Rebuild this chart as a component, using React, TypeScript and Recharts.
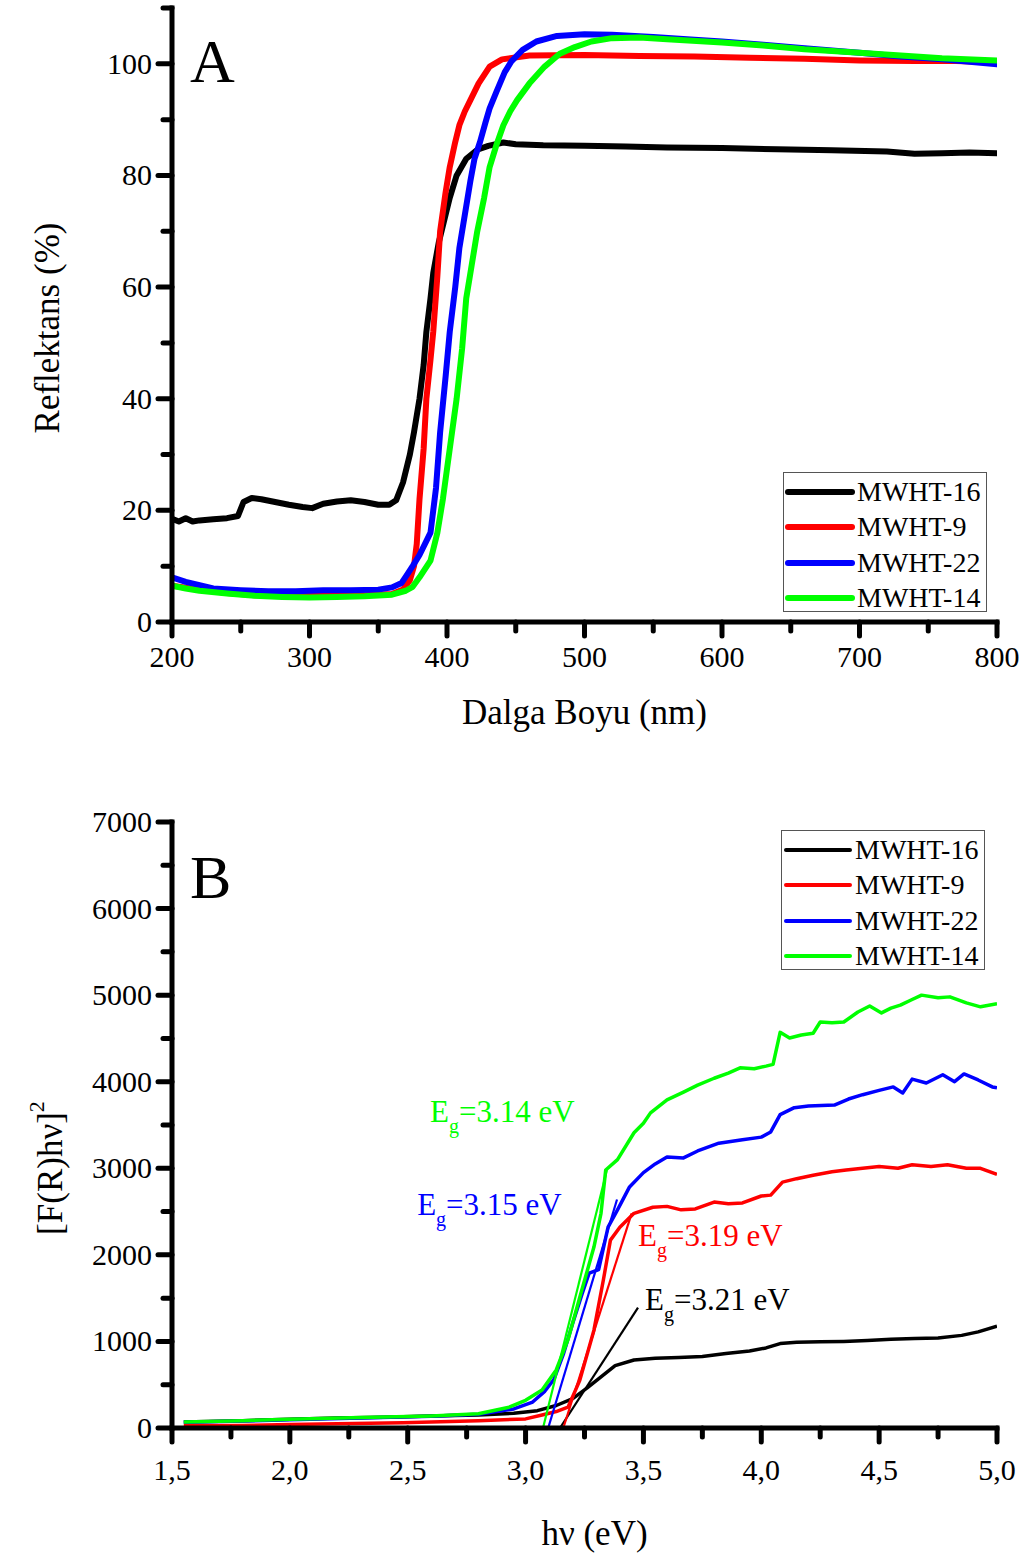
import React from 'react';
import { LineChart, Line, XAxis, YAxis, Legend, ReferenceDot } from 'recharts';

const FONT = '"Liberation Serif", "Times New Roman", Times, serif';

// ---- panel A: reflectance (%) vs wavelength (nm) ----
const reflMWHT16: [number, number][] = [
  [200, 18.5], [205, 18.0], [210, 18.6], [215, 18.0], [220, 18.2], [230, 18.4], [240, 18.6], [248, 19.0],
  [252, 21.5], [258, 22.2], [265, 22.0], [275, 21.5], [285, 21.0], [295, 20.6], [302, 20.4], [310, 21.2],
  [320, 21.6], [330, 21.8], [340, 21.5], [350, 21.0], [358, 21.0], [363, 21.8], [368, 25], [373, 30],
  [376, 34], [380, 40], [383, 46], [385, 52], [388, 58], [390, 62.5], [394, 68], [397, 71], [402, 76],
  [407, 80], [414, 83], [422, 84.6], [430, 85.3], [441, 85.9], [450, 85.6], [470, 85.4], [500, 85.3],
  [530, 85.2], [560, 85.0], [600, 84.9], [640, 84.7], [680, 84.5], [720, 84.3], [740, 83.9], [760, 84.0],
  [780, 84.1], [800, 84.0],
];
const reflMWHT9: [number, number][] = [
  [200, 6.5], [220, 5.8], [240, 5.2], [260, 4.8], [280, 4.7], [300, 4.7], [320, 4.8], [340, 4.8],
  [360, 5.0], [368, 5.8], [373, 7.5], [376, 10], [378, 14], [380, 22], [383, 31], [385, 40], [388, 47],
  [390, 52], [393, 62], [395, 70], [399, 77], [402, 81.5], [406, 86], [409, 89], [413, 91.5], [417, 93.5],
  [423, 96.5], [431, 99.5], [440, 100.8], [460, 101.5], [500, 101.6], [540, 101.4], [580, 101.3],
  [620, 101.1], [660, 100.9], [700, 100.6], [740, 100.5], [770, 100.5], [800, 100.3],
];
const reflMWHT22: [number, number][] = [
  [200, 8.0], [210, 7.2], [220, 6.6], [230, 6.0], [250, 5.7], [270, 5.5], [290, 5.5], [310, 5.7],
  [330, 5.7], [350, 5.8], [360, 6.2], [367, 7.0], [371, 8.5], [375, 10], [380, 12], [388, 16], [392, 24],
  [395, 34], [399, 44], [402, 52], [406, 60], [409, 67], [413, 73], [417, 79], [420, 83], [424, 86],
  [428, 89.5], [431, 92], [436, 95], [442, 98.5], [447, 100.5], [455, 102.5], [465, 104], [480, 105],
  [500, 105.3], [520, 105.2], [550, 104.8], [580, 104.3], [600, 104], [630, 103.4], [660, 102.8],
  [700, 102], [730, 101.3], [760, 100.8], [800, 99.9],
];
const reflMWHT14: [number, number][] = [
  [200, 6.5], [210, 6.0], [220, 5.6], [240, 5.1], [260, 4.7], [280, 4.5], [300, 4.4], [320, 4.5],
  [340, 4.6], [360, 4.9], [370, 5.6], [375, 6.3], [380, 8], [388, 11], [393, 16], [397, 22], [402, 31],
  [407, 40], [411, 49], [414, 58], [418, 64], [422, 70], [427, 76], [431, 81.5], [436, 85.5], [441, 89],
  [446, 91.5], [451, 93.5], [460, 96.5], [471, 99.5], [482, 101.8], [493, 103], [505, 104], [520, 104.6],
  [540, 104.7], [560, 104.4], [600, 103.8], [630, 103.3], [660, 102.6], [700, 102], [730, 101.5],
  [760, 101], [800, 100.6],
];

// ---- panel B: [F(R)hv]^2 vs hv (eV) ----
const kmMWHT16: [number, number][] = [
  [1.55, 70], [1.8, 85], [2.0, 100], [2.2, 115], [2.4, 125], [2.6, 140], [2.8, 150], [2.95, 170],
  [3.05, 200], [3.13, 260], [3.2, 340], [3.26, 460], [3.32, 590], [3.38, 720], [3.46, 785], [3.55, 805],
  [3.65, 815], [3.75, 825], [3.85, 860], [3.95, 890], [4.02, 925], [4.08, 975], [4.15, 990], [4.25, 995],
  [4.35, 1000], [4.45, 1010], [4.55, 1025], [4.65, 1035], [4.75, 1040], [4.85, 1070], [4.92, 1110],
  [5.0, 1175],
];
const kmMWHT9: [number, number][] = [
  [1.55, 25], [1.8, 30], [2.0, 40], [2.2, 50], [2.48, 60], [2.6, 70], [2.8, 85], [3.0, 105], [3.07, 150],
  [3.13, 190], [3.18, 240], [3.23, 550], [3.29, 1130], [3.33, 1710], [3.36, 2170], [3.4, 2320],
  [3.46, 2480], [3.54, 2550], [3.6, 2560], [3.66, 2520], [3.72, 2530], [3.8, 2610], [3.86, 2590],
  [3.92, 2600], [4.0, 2680], [4.04, 2690], [4.09, 2840], [4.15, 2880], [4.22, 2920], [4.3, 2960],
  [4.36, 2980], [4.43, 3000], [4.5, 3020], [4.58, 3000], [4.64, 3040], [4.72, 3020], [4.79, 3040],
  [4.87, 3000], [4.93, 3000], [5.0, 2930],
];
const kmMWHT22: [number, number][] = [
  [1.55, 65], [1.8, 80], [2.0, 95], [2.3, 115], [2.6, 135], [2.8, 160], [2.95, 220], [3.03, 300],
  [3.08, 420], [3.12, 560], [3.16, 850], [3.2, 1210], [3.24, 1550], [3.27, 1790], [3.31, 1830],
  [3.35, 2320], [3.39, 2520], [3.44, 2780], [3.5, 2950], [3.55, 3050], [3.6, 3130], [3.67, 3120],
  [3.73, 3200], [3.82, 3290], [3.92, 3330], [4.0, 3360], [4.04, 3420], [4.08, 3620], [4.14, 3700],
  [4.2, 3720], [4.31, 3730], [4.37, 3800], [4.43, 3850], [4.5, 3900], [4.56, 3940], [4.6, 3870],
  [4.64, 4030], [4.7, 3985], [4.77, 4080], [4.82, 4000], [4.86, 4090], [4.92, 4020], [4.98, 3940],
  [5.0, 3930],
];
const kmMWHT14: [number, number][] = [
  [1.55, 70], [1.8, 85], [2.0, 100], [2.3, 120], [2.6, 140], [2.8, 165], [2.93, 240], [3.0, 320],
  [3.07, 440], [3.13, 670], [3.18, 1020], [3.23, 1510], [3.29, 2090], [3.32, 2480], [3.34, 2980],
  [3.39, 3100], [3.46, 3410], [3.5, 3520], [3.53, 3640], [3.6, 3790], [3.67, 3880], [3.73, 3960],
  [3.8, 4040], [3.86, 4100], [3.91, 4160], [3.97, 4150], [4.02, 4180], [4.05, 4200], [4.08, 4570],
  [4.12, 4505], [4.17, 4540], [4.22, 4560], [4.25, 4690], [4.3, 4680], [4.35, 4690], [4.41, 4805],
  [4.46, 4875], [4.51, 4795], [4.55, 4850], [4.59, 4885], [4.64, 4950], [4.68, 5000], [4.75, 4970],
  [4.8, 4980], [4.87, 4910], [4.93, 4865], [5.0, 4900],
];

// band-gap tangent lines (two end points each)
const fitMWHT16: [number, number][] = [[3.146, 0], [3.477, 1390]];
const fitMWHT9: [number, number][] = [[3.16, 0], [3.45, 2480]];
const fitMWHT22: [number, number][] = [[3.096, 0], [3.388, 2640]];
const fitMWHT14: [number, number][] = [[3.074, 0], [3.345, 2980]];

const seriesNames = ['MWHT-16', 'MWHT-9', 'MWHT-22', 'MWHT-14'];
const seriesColors = ['#000000', '#ff0000', '#0000ff', '#00ff00'];
const reflSeries = [reflMWHT16, reflMWHT9, reflMWHT22, reflMWHT14];
const kmSeries = [kmMWHT16, kmMWHT9, kmMWHT22, kmMWHT14];
const fitSeries = [fitMWHT16, fitMWHT9, fitMWHT22, fitMWHT14];

// band gap labels: text, and where it sits (hv, value)
const gapTexts = ['=3.21 eV', '=3.19 eV', '=3.15 eV', '=3.14 eV'];
const gapAnchorX = [3.507, 3.477, 2.54, 2.595];
const gapAnchorY = [1363, 2102, 2460, 3535];

const ticksA_x = [200, 250, 300, 350, 400, 450, 500, 550, 600, 650, 700, 750, 800];
const ticksA_y = [0, 10, 20, 30, 40, 50, 60, 70, 80, 90, 100, 110];
const ticksB_x = [1.5, 1.75, 2.0, 2.25, 2.5, 2.75, 3.0, 3.25, 3.5, 3.75, 4.0, 4.25, 4.5, 4.75, 5.0];
const ticksB_y = [0, 500, 1000, 1500, 2000, 2500, 3000, 3500, 4000, 4500, 5000, 5500, 6000, 6500, 7000];

const toPoints = (arr: [number, number][]) => arr.map(([x, y]) => ({ x, y }));

const AXIS_LINE = { stroke: '#000', strokeWidth: 5, strokeLinecap: 'square' as const };

const makeXTick = (isMajor: (v: number) => boolean, fmt: (v: number) => string, labelDy: number) =>
  function XTick(props: any) {
    const { x, y, payload } = props;
    const major = isMajor(payload.value);
    return (
      <g>
        <line x1={x} x2={x} y1={y} y2={y + (major ? 14 : 9)} stroke="#000" strokeWidth={5} strokeLinecap="round" />
        {major && (
          <text x={x} y={y + labelDy} textAnchor="middle" fontSize={30} fontFamily={FONT} fill="#000">
            {fmt(payload.value)}
          </text>
        )}
      </g>
    );
  };

const makeYTick = (isMajor: (v: number) => boolean) =>
  function YTick(props: any) {
    const { x, y, payload } = props;
    const major = isMajor(payload.value);
    return (
      <g>
        <line x1={x} x2={x - (major ? 14 : 9)} y1={y} y2={y} stroke="#000" strokeWidth={5} strokeLinecap="round" />
        {major && (
          <text x={x - 20} y={y + 10} textAnchor="end" fontSize={30} fontFamily={FONT} fill="#000">
            {payload.value}
          </text>
        )}
      </g>
    );
  };

const legendContent = (lw: number) =>
  function LegendBox() {
    return (
      <div style={{ border: '1px solid #555', background: '#fff', width: 204, height: 140, boxSizing: 'border-box', paddingTop: 1 }}>
        {seriesNames.map((name, i) => (
          <div key={name} style={{ display: 'flex', alignItems: 'center', height: 35.5 }}>
            <svg width={72} height={14} style={{ display: 'block' }}>
              <line x1={4} x2={68} y1={7} y2={7} stroke={seriesColors[i]} strokeWidth={lw} strokeLinecap="round" />
            </svg>
            <span style={{ fontFamily: FONT, fontSize: 28, lineHeight: 1, color: '#000', marginLeft: 1 }}>{name}</span>
          </div>
        ))}
      </div>
    );
  };

const panelLetter = (letter: string) =>
  function PanelLetter(p: any) {
    const { x, y } = p.viewBox;
    return (
      <text x={x} y={y} fontSize={62} fontFamily={FONT} fill="#000">
        {letter}
      </text>
    );
  };

const gapLabel = (text: string, color: string) =>
  function GapLabel(p: any) {
    const { x, y } = p.viewBox;
    return (
      <text x={x} y={y} fontSize={31} fontFamily={FONT} fill={color}>
        E
        <tspan dy={11} fontSize={20}>g</tspan>
        <tspan dy={-11}>{text}</tspan>
      </text>
    );
  };

const isMajorA_x = (v: number) => v % 100 === 0;
const isMajorA_y = (v: number) => v % 20 === 0;
const isMajorB_x = (v: number) => Math.abs(v * 2 - Math.round(v * 2)) < 1e-6;
const isMajorB_y = (v: number) => v % 1000 === 0;

function PanelA() {
  return (
    <LineChart width={1030} height={780} margin={{ top: 8, right: 33, left: 72, bottom: 98 }}>
      <XAxis
        dataKey="x"
        type="number"
        domain={[200, 800]}
        ticks={ticksA_x}
        interval={0}
        allowDataOverflow
        height={60}
        tickSize={0}
        tickMargin={0}
        axisLine={AXIS_LINE}
        tickLine={false}
        tick={makeXTick(isMajorA_x, (v) => String(v), 45)}
        label={{
          content: (p: any) => (
            <text x={p.viewBox.x + p.viewBox.width / 2} y={p.viewBox.y + 102} textAnchor="middle" fontSize={35} fontFamily={FONT} fill="#000">
              Dalga Boyu (nm)
            </text>
          ),
        }}
      />
      <XAxis xAxisId="top" orientation="top" type="number" domain={[200, 800]} height={0} tick={false} tickLine={false} axisLine={AXIS_LINE} />
      <YAxis
        type="number"
        domain={[0, 110]}
        ticks={ticksA_y}
        interval={0}
        allowDataOverflow
        width={100}
        tickSize={0}
        tickMargin={0}
        axisLine={AXIS_LINE}
        tickLine={false}
        tick={makeYTick(isMajorA_y)}
        label={{
          content: (p: any) => {
            const cx = p.viewBox.x - 25;
            const cy = 328;
            return (
              <text x={cx} y={cy} transform={`rotate(-90 ${cx} ${cy})`} textAnchor="middle" dominantBaseline="central" fontSize={35} fontFamily={FONT} fill="#000">
                Reflektans (%)
              </text>
            );
          },
        }}
      />
      <YAxis yAxisId="right" orientation="right" type="number" domain={[0, 110]} width={0} tick={false} tickLine={false} axisLine={AXIS_LINE} />
      {reflSeries.map((s, i) => (
        <Line
          key={seriesNames[i]}
          data={toPoints(s)}
          dataKey="y"
          name={seriesNames[i]}
          type="linear"
          stroke={seriesColors[i]}
          strokeWidth={6}
          strokeLinejoin="round"
          strokeLinecap="round"
          dot={false}
          activeDot={false}
          isAnimationActive={false}
        />
      ))}
      <ReferenceDot x={213} y={96.8} r={0} fill="none" stroke="none" label={panelLetter('A')} />
      <Legend layout="vertical" align="center" verticalAlign="middle" wrapperStyle={{ left: 783, top: 472, width: 'auto', height: 'auto' }} content={legendContent(6)} />
    </LineChart>
  );
}

function PanelB() {
  return (
    <LineChart width={1030} height={778} margin={{ top: 42, right: 33, left: 72, bottom: 70 }}>
      <XAxis
        dataKey="x"
        type="number"
        domain={[1.5, 5.0]}
        ticks={ticksB_x}
        interval={0}
        allowDataOverflow
        height={60}
        tickSize={0}
        tickMargin={0}
        axisLine={AXIS_LINE}
        tickLine={false}
        tick={makeXTick(isMajorB_x, (v) => v.toFixed(1).replace('.', ','), 52)}
        label={{
          content: (p: any) => (
            <text x={p.viewBox.x + p.viewBox.width / 2 + 10} y={p.viewBox.y + 117} textAnchor="middle" fontSize={35} fontFamily={FONT} fill="#000">
              hν (eV)
            </text>
          ),
        }}
      />
      <XAxis xAxisId="top" orientation="top" type="number" domain={[1.5, 5.0]} height={0} tick={false} tickLine={false} axisLine={AXIS_LINE} />
      <YAxis
        type="number"
        domain={[0, 7000]}
        ticks={ticksB_y}
        interval={0}
        allowDataOverflow
        width={100}
        tickSize={0}
        tickMargin={0}
        axisLine={AXIS_LINE}
        tickLine={false}
        tick={makeYTick(isMajorB_y)}
        label={{
          content: (p: any) => {
            const cx = p.viewBox.x - 22;
            const cy = 388;
            return (
              <text x={cx} y={cy} transform={`rotate(-90 ${cx} ${cy})`} textAnchor="middle" dominantBaseline="central" fontSize={35} fontFamily={FONT} fill="#000">
                [F(R)hν]
                <tspan dy={-14} fontSize={22}>2</tspan>
              </text>
            );
          },
        }}
      />
      <YAxis yAxisId="right" orientation="right" type="number" domain={[0, 7000]} width={0} tick={false} tickLine={false} axisLine={AXIS_LINE} />
      {kmSeries.map((s, i) => (
        <Line
          key={seriesNames[i]}
          data={toPoints(s)}
          dataKey="y"
          name={seriesNames[i]}
          type="linear"
          stroke={seriesColors[i]}
          strokeWidth={3.5}
          strokeLinejoin="round"
          dot={false}
          activeDot={false}
          isAnimationActive={false}
        />
      ))}
      {fitSeries.map((s, i) => (
        <Line
          key={'fit' + seriesNames[i]}
          data={toPoints(s)}
          dataKey="y"
          name={'fit ' + seriesNames[i]}
          legendType="none"
          type="linear"
          stroke={seriesColors[i]}
          strokeWidth={2.2}
          dot={false}
          activeDot={false}
          isAnimationActive={false}
        />
      ))}
      {gapTexts.map((t, i) => (
        <ReferenceDot key={t} x={gapAnchorX[i]} y={gapAnchorY[i]} r={0} fill="none" stroke="none" label={gapLabel(t, seriesColors[i])} />
      ))}
      <ReferenceDot x={1.576} y={6122} r={0} fill="none" stroke="none" label={panelLetter('B')} />
      <Legend layout="vertical" align="center" verticalAlign="middle" wrapperStyle={{ left: 781, top: 50, width: 'auto', height: 'auto' }} content={legendContent(4)} />
    </LineChart>
  );
}

export default function App() {
  return (
    <div style={{ position: 'absolute', left: 0, top: 0, width: 1030, height: 1558, background: '#fff' }}>
      <PanelA />
      <PanelB />
    </div>
  );
}
